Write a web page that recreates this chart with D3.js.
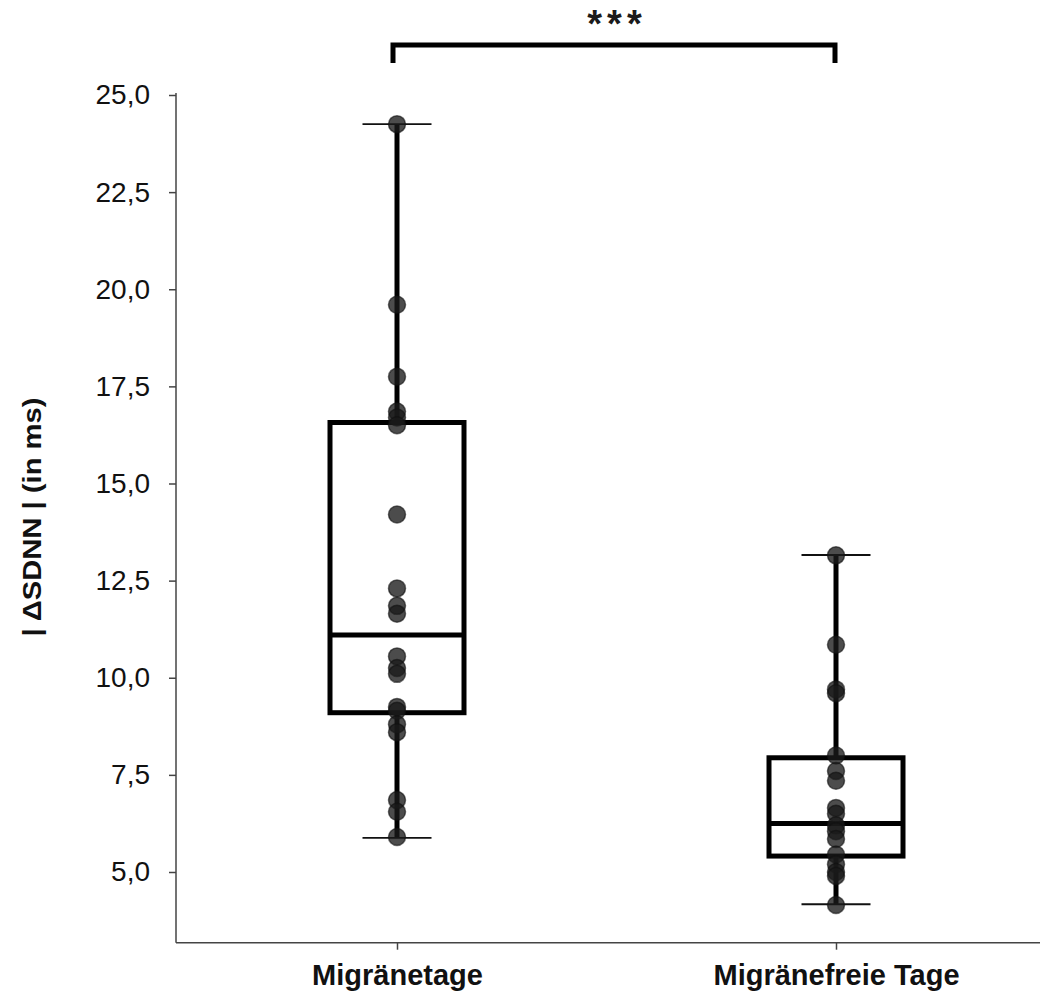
<!DOCTYPE html>
<html>
<head>
<meta charset="utf-8">
<script src="https://cdn.jsdelivr.net/npm/d3@7"></script>
<style>
  body { margin: 0; background: #fff; }
  text { font-family: "Liberation Sans", Arial, sans-serif; }
</style>
</head>
<body>
<script>
// groups and values
var groups = ['Migränetage', 'Migränefreie Tage'];
var migraene = [24.25, 19.6, 17.75, 16.85, 16.7, 16.5, 14.2, 12.3, 11.85, 11.65,
  10.55, 10.25, 10.1, 9.25, 9.15, 8.8, 8.6, 6.85, 6.55, 5.9];
var frei = [13.15, 10.85, 9.7, 9.6, 8.0, 7.6, 7.35, 6.65, 6.5, 6.2, 6.05, 5.85,
  5.45, 5.2, 5.0, 4.9, 4.15];
var boxMin = [5.88, 4.17];
var boxQ1 = [9.1, 5.41];
var boxMedian = [11.1, 6.25];
var boxQ3 = [16.57, 7.94];
var boxMax = [24.25, 13.16];
var yTicks = [5, 7.5, 10, 12.5, 15, 17.5, 20, 22.5, 25];
var signif = '***';

var W = 1040, H = 997;
var svg = d3.select('body').append('svg').attr('width', W).attr('height', H);

var y = d3.scaleLinear().domain([3.18, 25]).range([942.7, 95]);
var x = d3.scalePoint().domain(groups).range([397, 836]);
var fmt = function(d) { return d3.format('.1f')(d).replace('.', ','); };

// y axis
var yAxis = svg.append('g').attr('transform', 'translate(176,0)')
  .call(d3.axisLeft(y).tickValues(yTicks).tickFormat(fmt).tickSize(7).tickSizeOuter(0));
yAxis.select('.domain').attr('stroke', '#444').attr('stroke-width', 1.5)
  .attr('d', 'M0,' + (y(25) - 2) + 'V' + y.range()[0]);
yAxis.selectAll('.tick line').attr('stroke', '#444').attr('stroke-width', 1.5);
yAxis.selectAll('.tick text').attr('font-size', 28).attr('fill', '#111').attr('x', -26)
  .attr('font-family', '"Liberation Sans", Arial, sans-serif');

// x axis
var xAxis = svg.append('g').attr('transform', 'translate(0,' + y.range()[0] + ')')
  .call(d3.axisBottom(x).tickSize(7).tickSizeOuter(0));
xAxis.select('.domain').attr('stroke', '#444').attr('stroke-width', 1.5)
  .attr('d', 'M176,0H' + W);
xAxis.selectAll('.tick line').attr('stroke', '#444').attr('stroke-width', 1.5);
xAxis.selectAll('.tick text').attr('font-size', 29).attr('font-weight', 'bold')
  .attr('fill', '#111').attr('y', 22)
  .attr('font-family', '"Liberation Sans", Arial, sans-serif');

// y label
svg.append('text').attr('transform', 'translate(41,517) rotate(-90)')
  .attr('text-anchor', 'middle').attr('font-size', 25).attr('font-weight', 'bold')
  .attr('textLength', 239).attr('lengthAdjust', 'spacingAndGlyphs')
  .attr('fill', '#111').text('| ΔSDNN | (in ms)');

var boxW = 134, capW = 69;
var series = [migraene, frei];

groups.forEach(function(g, i) {
  var cx = x(g);
  var grp = svg.append('g');
  // whisker
  grp.append('line').attr('x1', cx).attr('x2', cx)
    .attr('y1', y(boxMin[i])).attr('y2', y(boxMax[i]))
    .attr('stroke', '#000').attr('stroke-width', 5);
  // caps
  [boxMin[i], boxMax[i]].forEach(function(v) {
    grp.append('line').attr('x1', cx - capW / 2).attr('x2', cx + capW / 2)
      .attr('y1', y(v)).attr('y2', y(v))
      .attr('stroke', '#111').attr('stroke-width', 1.8);
  });
  // box
  grp.append('rect').attr('x', cx - boxW / 2).attr('width', boxW)
    .attr('y', y(boxQ3[i])).attr('height', y(boxQ1[i]) - y(boxQ3[i]))
    .attr('fill', '#fff').attr('stroke', '#000').attr('stroke-width', 5);
  grp.append('line').attr('x1', cx - boxW / 2).attr('x2', cx + boxW / 2)
    .attr('y1', y(boxMedian[i])).attr('y2', y(boxMedian[i]))
    .attr('stroke', '#000').attr('stroke-width', 5);
  // points
  grp.selectAll('circle').data(series[i]).enter().append('circle')
    .attr('cx', cx).attr('cy', function(d) { return y(d); }).attr('r', 8.5)
    .attr('fill', '#1a1a1a').attr('fill-opacity', 0.78)
    .attr('stroke', '#111').attr('stroke-opacity', 0.6).attr('stroke-width', 1.5);
});

// significance bracket
var bx0 = x(groups[0]) - 4, bx1 = x(groups[1]) - 1, by = 45;
svg.append('path')
  .attr('d', 'M' + bx0 + ',63V' + by + 'H' + bx1 + 'V63')
  .attr('fill', 'none').attr('stroke', '#000').attr('stroke-width', 5);
svg.append('text').attr('x', (bx0 + bx1) / 2 + 3).attr('y', 37)
  .attr('text-anchor', 'middle').attr('font-size', 38).attr('font-weight', 'bold')
  .attr('letter-spacing', 5).attr('fill', '#1b1b1b')
  .attr('font-family', '"DejaVu Sans", sans-serif').text(signif);
</script>
</body>
</html>
